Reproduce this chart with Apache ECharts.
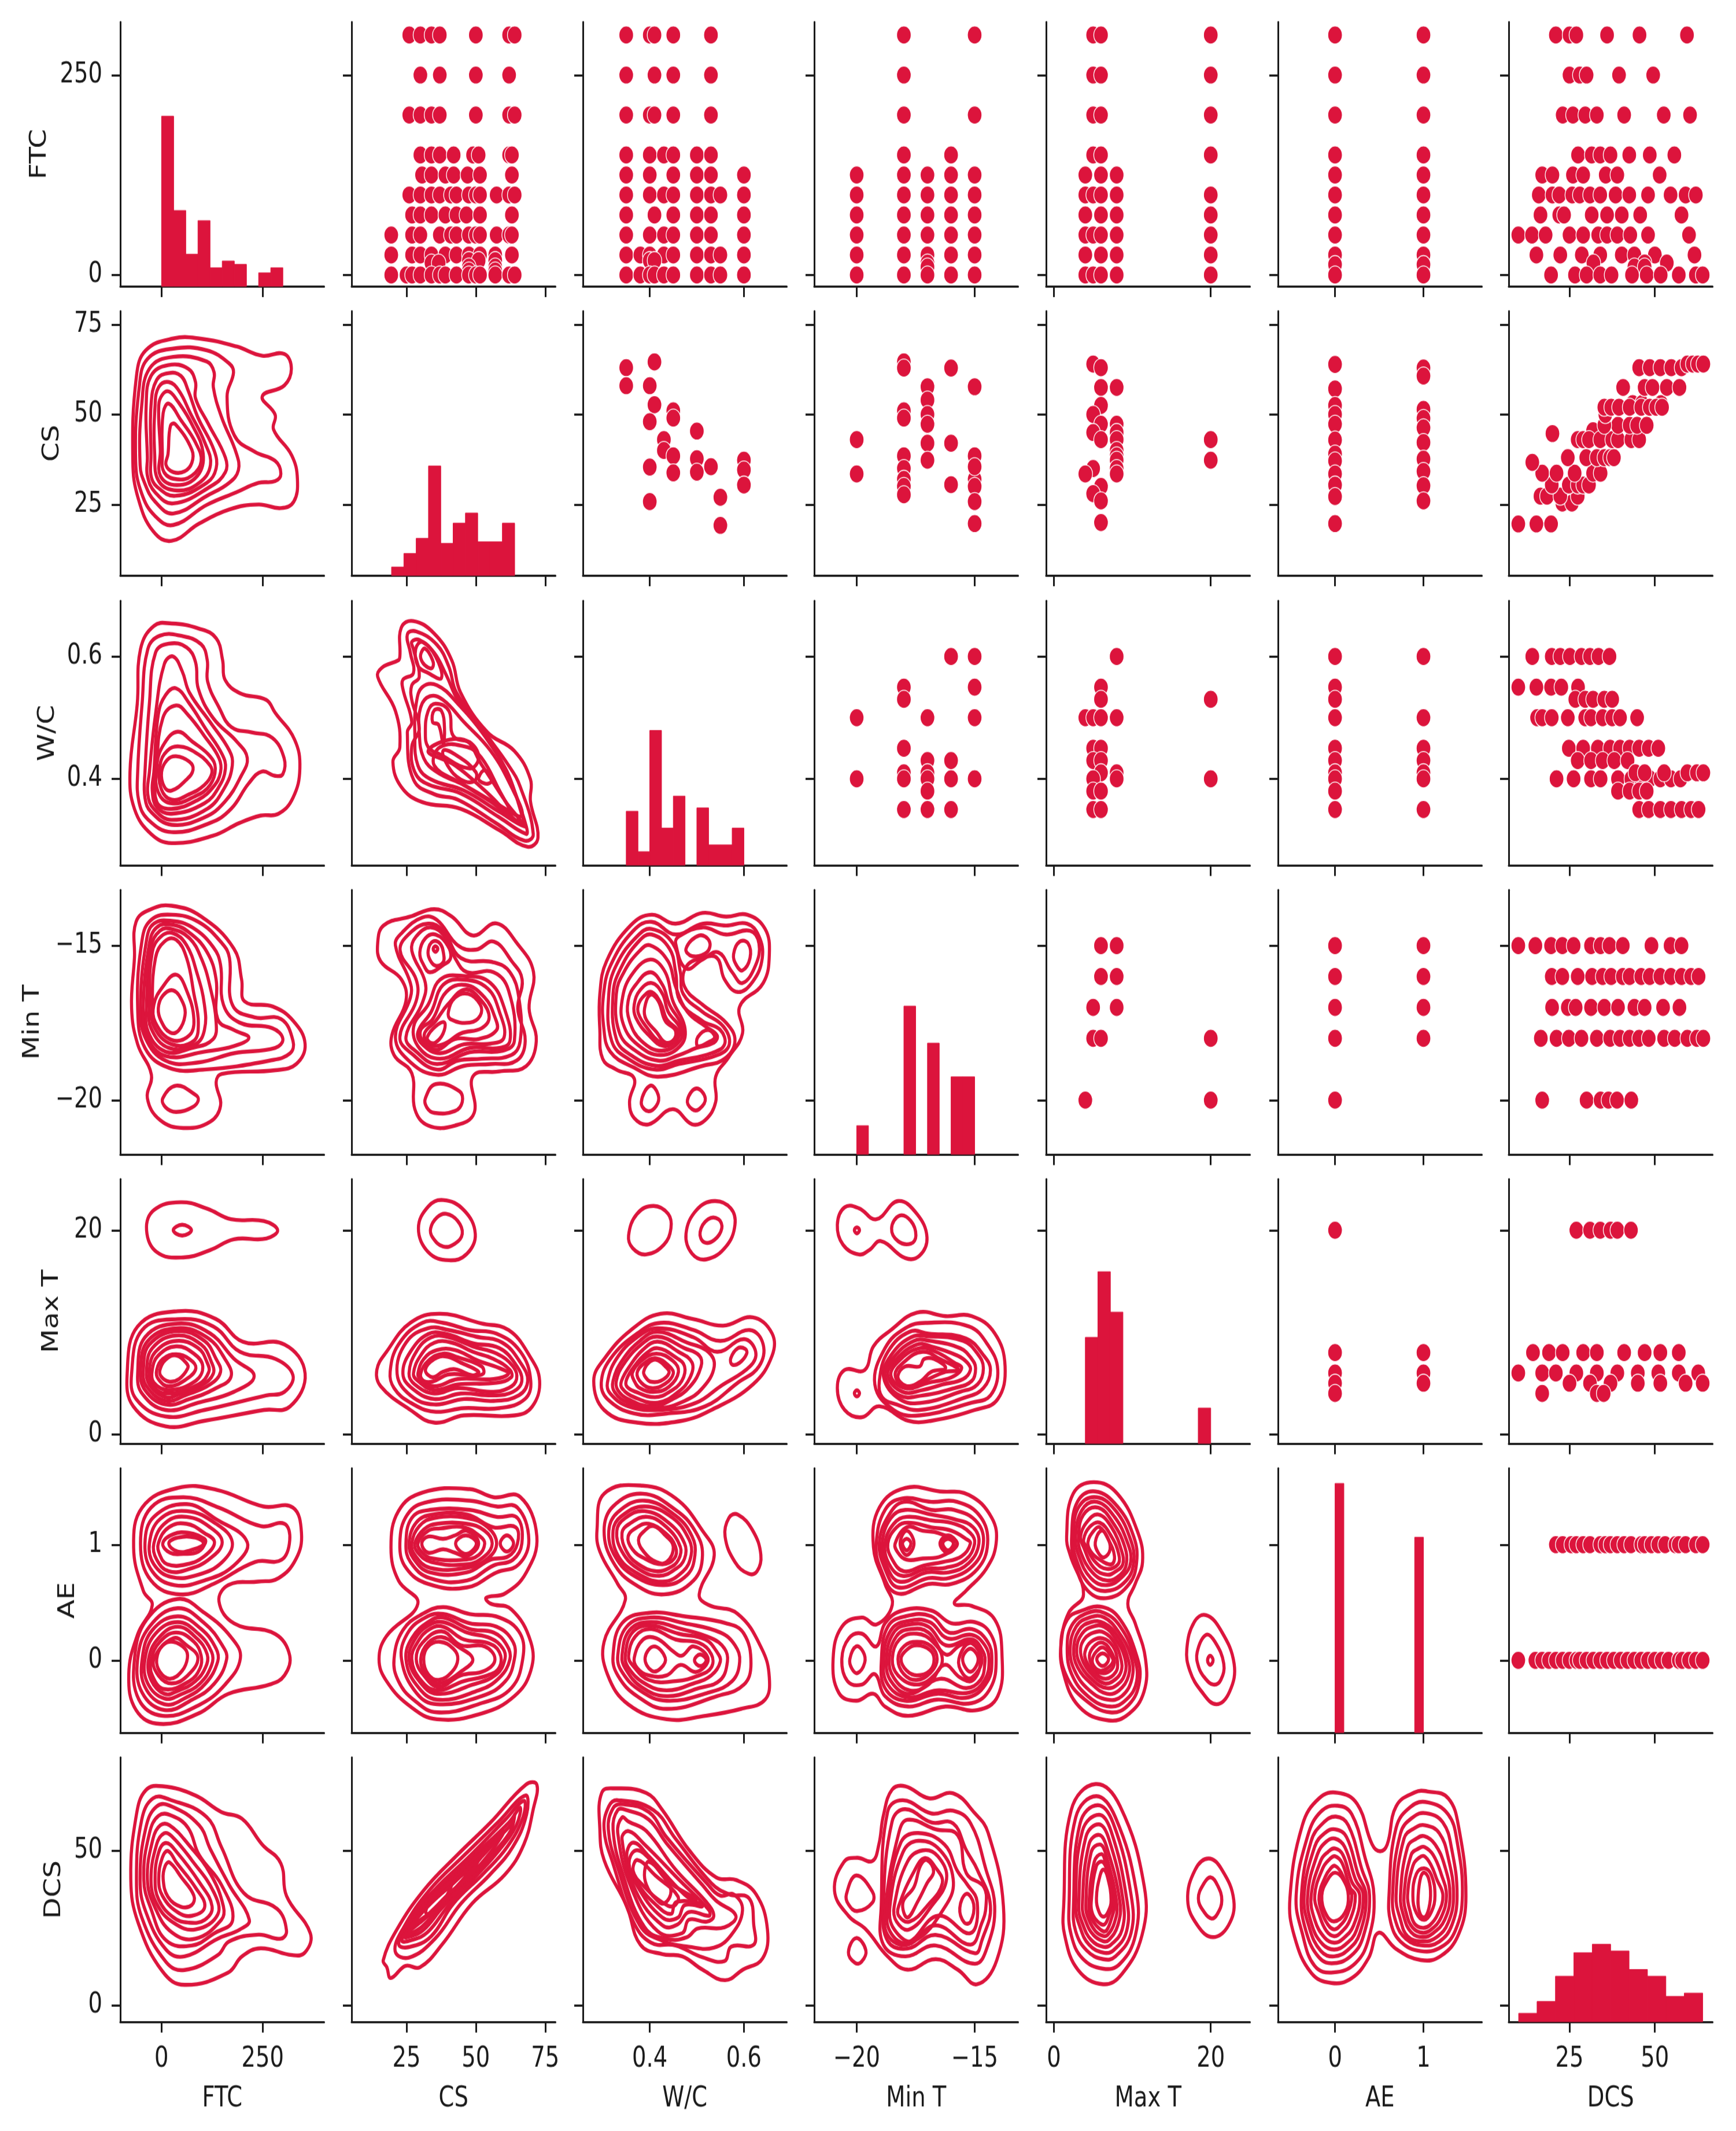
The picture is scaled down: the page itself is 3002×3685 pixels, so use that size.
<!DOCTYPE html>
<html><head><meta charset="utf-8">
<script src="https://cdn.jsdelivr.net/npm/echarts@6/dist/echarts.min.js"></script>
<style>html,body{margin:0;padding:0;background:#fff;height:3685px}
#chart{width:3002px;height:2948px;transform:scaleY(1.25);transform-origin:0 0}</style>
</head><body><div id="chart"></div>
<script>
const variables=['FTC','CS','W/C','Min T','Max T','AE','DCS'];
const xLimits=[[-102,402],[5.2,78.7],[.258,.691],[-21.8,-13.16],[-1,25],[-.645,1.66],[7.2,66.9]];
const yLimits=[[-14.1,316.3],[5.3,78.7],[.259,.691],[-21.75,-13.2],[-.9,25],[-.625,1.66],[-5.3,80]];
const xTicks=[[0,250],[25,50,75],[.4,.6],[-20,-15],[0,20],[0,1],[25,50]];
const yTicks=[[0,250],[25,50,75],[.4,.6],[-20,-15],[0,20],[0,1],[0,50]];

// histograms on the diagonal: [first edge, last edge] and counts of ten bins
const histRange=[[0,300],[19.6,64],[.35,.6],[-20,-15],[4,20],[0,1],[10.1,64]];
const histFTC=[101,45,19,39,11,15,13,0,8,11];
const histCS=[5,13,22,65,19,31,37,20,20,31];
const histWC=[32,8,80,22,41,0,34,12,12,22];
const histMinT=[17,0,0,0,88,0,66,0,46,46];
const histMaxT=[63,102,78,0,0,0,0,0,0,21];
const histAE=[148,0,0,0,0,0,0,0,0,116];
const histDCS=[5,12,27,41,46,42,31,27,15,17];

// scatter panels: [level of y, [x values]]
const ptsCS_FTC=[[300,[26,30,34,37,50,62,64]],[250,[30,37,50,62]],[200,[26,30,34,37,50,62,64]],[150,[30,34,37,42,49,51,62,63]],[125,[30.6,34,39,42,47,51.5,63]],[100,[26,30,34,37,41,43,47.5,50,51.5,57.5,62,64]],[75,[27,30,34,39,43,46.6,51.5,63]],[50,[19.5,27,30,37,41,43,47.5,50,51.5,57.5,62,63]],[25,[19.5,27,30,34,39,43,47.5,51.5,57,63]],[18,[47.5,51,57]],[15,[34,36.6]],[10,[47.5,57]],[5,[47.5,57]],[0,[19.5,25,27,30,34,37,39,43,47.5,50,51.5,57,62,64]]];
const ptsWC_FTC=[[300,[.35,.4,.41,.45,.53]],[250,[.35,.41,.45,.53]],[200,[.35,.4,.41,.45,.53]],[150,[.35,.4,.43,.45,.5,.53]],[125,[.35,.4,.45,.5,.53,.6]],[100,[.35,.4,.43,.45,.5,.53,.55,.6]],[75,[.35,.41,.45,.5,.53,.6]],[50,[.35,.4,.43,.45,.5,.53,.6]],[25,[.35,.38,.4,.43,.45,.5,.53,.55,.6]],[18,[.4,.41]],[0,[.35,.38,.4,.41,.43,.45,.5,.53,.55,.6]]];
const ptsMinT_FTC=[[300,[-18,-15]],[250,[-18]],[200,[-18,-15]],[150,[-18,-16]],[125,[-20,-18,-17,-16,-15]],[100,[-20,-18,-17,-16,-15]],[75,[-20,-18,-17,-16,-15]],[50,[-20,-18,-17,-16,-15]],[25,[-20,-18,-17,-16,-15]],[15,[-17]],[10,[-17]],[0,[-20,-18,-17,-16,-15]]];
const ptsMaxT_FTC=[[300,[5,6,20]],[250,[5,6,20]],[200,[5,6,20]],[150,[5,6,20]],[125,[4,6,8]],[100,[4,5,6,8,20]],[75,[4,6,8,20]],[50,[4,5,6,8,20]],[25,[4,6,8,20]],[0,[4,5,6,8,20]]];
const ptsAE_FTC=[[300,[0,1]],[250,[0,1]],[200,[0,1]],[150,[0,1]],[125,[0,1]],[100,[0,1]],[75,[0,1]],[50,[0,1]],[25,[0,1]],[13,[0,1]],[0,[0,1]]];
const ptsDCS_FTC=[[300,[21,25,27,36,45.5,59.4]],[250,[25,28,30,39.5,49.5]],[200,[23,26,29.6,33,41,52.6,60.3]],[150,[27.5,31.5,34,37,42.5,48.5,55.7]],[125,[17,20,26,29,35.6,39,51.4]],[100,[16,20,22,25.8,28,31,34,38.5,42.5,48,54.6,59,62]],[75,[16.5,22,23.4,31.5,36,40.3,45.7,57.8]],[50,[10,14,18,25,29,33.4,36,39,42.8,48,60]],[25,[15.3,22.3,28.6,34,40.3,44,50,61.6]],[15,[32,47,53.5]],[10,[44,47]],[0,[19.6,26.6,30,34,37.3,43.3,47.6,51.7,57,62,64]]];

const ptsWC_CS=[[63,[.35]],[58,[.35,.4]],[64.6,[.41]],[52.7,[.41]],[51,[.45]],[49,[.45]],[48,[.4]],[43,[.43]],[40,[.43]],[38.5,[.45]],[35.4,[.4]],[33.8,[.45]],[25.8,[.4]],[45.4,[.5]],[37.7,[.5]],[34,[.5]],[35.5,[.53]],[27,[.55]],[19.2,[.55]],[37.3,[.6]],[34.6,[.6]],[30.4,[.6]]];
const ptsMinT_CS=[[43,[-20]],[33.5,[-20]],[64.6,[-18]],[62.9,[-18,-16]],[51,[-18]],[49,[-18]],[38.5,[-18,-15]],[35,[-18]],[32,[-18,-15]],[30,[-18,-15]],[27.7,[-18]],[57.7,[-17,-15]],[54,[-17]],[50,[-17]],[47.3,[-17]],[42,[-17,-16]],[37.3,[-17]],[30.5,[-16]],[35.5,[-15]],[25.8,[-15]],[19.7,[-15]]];
const ptsMaxT_CS=[[64,[5]],[63,[6]],[57.5,[6,8]],[52.5,[6]],[50,[5]],[47.3,[6,8]],[45,[5,8]],[43,[6,8,20]],[40,[8]],[38.5,[8]],[37.3,[8,20]],[35,[5,8]],[33.5,[4,8]],[30,[6]],[28,[5]],[26,[6]],[20,[6]]];
const ptsAE_CS=[[63.9,[0]],[57.1,[0]],[52.5,[0]],[50,[0]],[47.3,[0]],[42.9,[0]],[39,[0]],[37.1,[0]],[33.5,[0]],[30.4,[0]],[27.2,[0]],[19.7,[0]],[62.9,[1]],[60.7,[1]],[51.4,[1]],[48.9,[1]],[46.3,[1]],[42.2,[1]],[37.6,[1]],[34.2,[1]],[30.2,[1]],[26,[1]]];
const ptsDCS_CS=[[19.6,[10,15.3,19.6]],[25.4,[22.9,25.7]],[27.3,[16.5,18.4,22.3,27.4]],[30.4,[19.8,24.8,27.4,29,30.7]],[33.7,[17,21.2,26.5,31.9,34.1]],[36.7,[14.1]],[38,[24.5,29.9,33,35.2,36.9,38]],[44.7,[20]],[45.5,[31.9]],[43,[27.4,29,30.7,34,37.5,39.2,43.1,45.4]],[47,[39.2,42.6,44.8,47.6,35.2]],[50,[35.5]],[53,[43.5,46.2,51.8]],[52,[35.2,37.2,39.5,42.6,46,48.5,50.4,52.1]],[57.5,[40.7,47,49.3,53.5,57.2]],[63,[45.4,48.5,51.6,54.8,57.8]],[64,[59.5,61.1,62.6,64.2]]];

const ptsMinT_WC=[[.6,[-16,-15]],[.55,[-18,-15]],[.53,[-18]],[.5,[-20,-17,-15]],[.45,[-18]],[.43,[-17,-16]],[.41,[-18,-17]],[.4,[-20,-18,-17,-16,-15]],[.38,[-17]],[.35,[-18,-17,-16]]];
const ptsMaxT_WC=[[.6,[8]],[.55,[6]],[.53,[6,20]],[.5,[4,5,6,8]],[.45,[5,6]],[.43,[5,6]],[.41,[6,8]],[.4,[8,20,5]],[.38,[5,6]],[.35,[5,6]]];
const ptsAE_WC=[[.6,[0,1]],[.55,[0]],[.53,[0]],[.5,[0,1]],[.45,[0,1]],[.43,[0,1]],[.41,[0,1]],[.4,[0,1]],[.38,[0]],[.35,[0,1]]];
const ptsDCS_WC=[[.6,[14.1,19.8,22.3,25.1,28.5,31,33.5,36.7]],[.55,[10,15.3,19.6,22.6,27.5]],[.53,[26.7,29.6,31.9,35.2,37.5]],[.5,[15.5,17,19.8,24.5,29.6,31.3,34.7,37.5,39.8,44.8]],[.45,[24.8,29,33.3,36.9,39.8,42.6,45.4,48.2,51]],[.43,[27.4,31.3,34.7,38.1,42]],[.4,[21.2,26.2,31.3,34.1,39.2,43.1,45.9,48.5,51.6,54.7,57.5]],[.41,[44.3,47,52.7,59.5,62.3,64.2]],[.38,[39.2,42.6,45.4,47.6]],[.35,[45.4,48.2,51.6,54.7,57.8,60.6,62.8]]];

const ptsMaxT_MinT=[[-15,[6,8]],[-16,[6,8]],[-17,[5,8]],[-18,[5,6,20]],[-20,[4,20]]];
const ptsAE_MinT=[[-15,[0,1]],[-16,[0,1]],[-17,[0,1]],[-18,[0,1]],[-20,[0]]];
const ptsDCS_MinT=[[-15,[10,15,19.6,22.9,26.2,31.3,34.1,36.7,40.6,49,54.6,57.8]],[-16,[19.8,22.9,27.4,31.6,34.7,37.2,40.6,42.6,46,48.5,51.6,54.7,57.8,60.6,62.8]],[-17,[19.9,24.5,26.8,31.3,35.2,39.2,44,47,52.4,57.2]],[-18,[16.6,21.2,24.8,28.5,33,36.9,39.8,42.6,45.4,48.2,52.7,55.8,59.5,62.3,64.2]],[-20,[17,30,34.1,36.4,38.9,43.1]]];

const ptsAE_MaxT=[[20,[0]],[8,[0,1]],[6,[0,1]],[5,[0,1]],[4,[0]]];
const ptsDCS_MaxT=[[20,[27,31,34,37,39,43]],[8,[14.3,19,23,29,33,41,47,51.6,57]],[6,[10,17,21,27,33,39,45,51,57,62.7]],[5,[25,31,37,45,51.6,59,64]],[4,[17,33,35]]];
const ptsDCS_AE=[[1,[21,23,25.5,27,29,31,34,35.5,37,39,41,43,46,47,49,51,53,56,57,59,62,64]],[0,[10,15,17,19,21,23,25,27,28,30,32,34,36,38,40,42,44,46,48,50,52,54,57,58,60,62,64]]];

// KDE contours: each contour is [x values],[y values]
const kdeFTC_CS=[
[[-71,-62,-39,29,93,185,249,304,321,304,249,281,277,322,336,327,295,240,167,93,25,-21,-58],[37.1,60.7,67.8,71.1,71.1,68.9,66.3,66.8,62.7,58.1,55,49.9,45.8,38.6,32,25.8,24,25,23.6,19.7,14.9,17.6,26.8]],
[[-64,-55,-35,29,112,167,178,162,180,231,281,295,281,240,185,112,29,-16,-49],[37.1,57.7,65.4,68.3,67.8,64.2,61.7,55,44.2,39.6,37.1,33.5,31.5,31,28.4,24.9,19.3,21.8,28]],
[[-53,-49,-30,29,112,130,128,148,185,190,167,112,29,-16,-42],[36,52.5,62.7,66,64.7,61.7,57.6,49.4,39.2,34.5,31,27.4,22.5,25.8,31]],
[[-35,-38,-26,16,66,84,84,116,158,158,121,29,-16,-35],[38,52.5,60.7,63.7,62.7,59,54.5,47.3,38,34,30,25.3,28.4,33]],
[[-26,-26,-12,18,48,66,89,130,135,112,34,-12,-26],[38,52.5,59.6,61.5,60.7,56.6,49.4,40,35,31,27.4,30,33]],
[[-17,-16,-7,18,43,71,107,121,93,38,-7],[39,52.5,57.6,59,56.6,50.4,42.2,36,31,28.9,31.5]],
[[-3,-7,2,18,38,75,103,89,38,-3],[40,52.5,55.5,56.4,54,47.3,39.1,33,30.4,33]],
[[2,4,18,48,84,98,75,38,6],[39,50.4,53,48.4,42.2,37,33,32,34]],
[[16,22,34,75,75,57,29,11],[39,46.8,47.3,40.2,36.6,34.2,34,36]]];
const kdeFTC_WC=[
[[-78,-60,-52,-19,25,91,135,151,157,194,259,281,329,342,325,289,245,193,127,25,-26,-67],[.411,.523,.612,.65,.654,.646,.63,.594,.562,.54,.529,.508,.464,.417,.369,.343,.34,.328,.307,.295,.31,.351]],
[[-59,-48,-34,-4,47,98,113,114,142,172,223,274,303,300,281,248,216,172,120,25,-34,-56],[.411,.523,.612,.634,.634,.62,.594,.559,.517,.485,.476,.467,.434,.408,.405,.412,.393,.351,.328,.313,.334,.363]],
[[-41,-30,-15,18,62,84,91,128,186,212,197,157,106,25,-26,-41],[.411,.523,.606,.621,.615,.591,.547,.499,.461,.434,.405,.363,.337,.325,.346,.369]],
[[-30,-15,7,29,51,69,120,168,175,157,113,25,-19,-34],[.411,.505,.588,.6,.576,.541,.493,.446,.422,.387,.351,.333,.351,.375]],
[[-19,-8,10,36,69,109,150,158,142,106,25,-12,-23],[.411,.505,.537,.548,.523,.482,.44,.417,.387,.36,.343,.354,.381]],
[[-12,3,36,65,106,142,146,128,91,25,-12],[.417,.499,.52,.505,.47,.434,.411,.387,.366,.351,.363]],
[[-12,7,40,76,120,133,120,84,25,-8],[.422,.458,.477,.461,.437,.417,.39,.372,.36,.378]],
[[-4,14,43,84,120,124,106,69,25,-1],[.422,.446,.453,.443,.422,.408,.39,.375,.366,.384]],
[[0,14,36,69,78,62,25,7],[.411,.431,.437,.428,.415,.399,.381,.387]]];
const kdeFTC_MinT=[
[[-74,-67,-63,-26,25,98,179,198,205,275,326,355,333,281,149,135,146,120,54,-4,-35,-25,-59],[-17.03,-15.4,-14.23,-13.82,-13.71,-14.06,-15.1,-16.1,-16.8,-16.97,-17.44,-18.19,-18.83,-19.03,-19.15,-19.42,-20.17,-20.7,-20.9,-20.64,-19.94,-19.18,-18.19]],
[[3,36,84,91,76,36,10],[-19.94,-19.53,-19.83,-20,-20.23,-20.38,-20.23]],
[[-59,-48,-26,25,91,150,168,175,230,296,325,318,267,106,18,-41],[-17.03,-14.81,-14.17,-14,-14.23,-14.93,-15.4,-16.91,-17.32,-17.38,-18.08,-18.48,-18.72,-19.01,-18.95,-18.31]],
[[-52,-37,-19,25,76,128,146,153,193,274,300,281,179,91,10,-41],[-16.91,-14.81,-14.29,-14.2,-14.41,-15.05,-15.63,-16.91,-17.49,-17.67,-18.02,-18.31,-18.48,-18.78,-18.72,-17.96]],
[[-45,-30,-12,25,69,113,135,139,179,216,179,106,10,-37],[-16.91,-14.93,-14.41,-14.32,-14.58,-15.22,-16.1,-17.38,-17.73,-17.98,-18.25,-18.43,-18.57,-17.9]],
[[-37,-26,-4,25,69,98,120,135,128,76,10,-33],[-16.91,-15.05,-14.52,-14.46,-14.76,-15.4,-16.33,-17.49,-18.02,-18.31,-18.43,-17.79]],
[[-30,-23,-1,29,62,87,106,106,84,18,-26],[-16.91,-15.22,-14.7,-14.6,-14.99,-15.86,-16.91,-17.73,-18.19,-18.31,-17.67]],
[[-23,-15,7,36,62,80,91,80,25,-19],[-16.91,-15.4,-14.87,-14.81,-15.4,-16.56,-17.49,-18.08,-18.19,-17.61]],
[[-19,3,36,62,80,69,25,-15],[-16.91,-16.33,-15.94,-16.45,-17.38,-17.9,-18.05,-17.49]],
[[-8,3,29,53,58,43,21,-1],[-17.03,-16.62,-16.45,-16.85,-17.26,-17.73,-17.81,-17.44]]];
const kdeFTC_MaxT=[
[[-37,-19,47,113,172,253,287,259,179,120,54,-12],[20,21.96,22.74,22.1,21.07,20.89,20,19.18,19.11,18.04,17.33,17.86]],
[[29,51,74,51],[20,20.53,20,19.47]],
[[-85,-59,40,135,201,304,355,318,253,106,10,-70],[5.94,10.57,12.06,11.28,9.07,8.79,5.94,2.74,2.38,1.32,.78,2.74]],
[[-74,-48,40,128,194,282,325,304,259,106,10,-63],[5.94,10.21,11.28,10.57,8.08,7.37,5.77,4.16,3.81,2.38,1.74,3.45]],
[[-59,-41,40,120,179,229,179,91,10,-48],[5.94,9.5,10.85,9.89,7.4,5.7,4.16,3.1,2.38,3.99]],
[[-52,-34,40,113,157,172,135,69,10,-41],[6.3,9.15,10.39,9.48,7.37,5.66,4.52,3.45,2.92,4.34]],
[[-45,-30,40,106,135,146,120,62,10,-37],[6.3,8.79,10.11,9.15,7.37,6.12,4.88,3.88,3.27,4.7]],
[[-37,-23,36,98,124,128,102,47,10,-30],[6.3,8.43,9.68,8.79,7.01,5.94,4.88,3.99,3.63,4.88]],
[[-30,-15,36,91,113,117,91,10,-23],[6.3,8.08,9.15,8.43,7.01,6.12,4.88,3.99,4.88]],
[[-23,-8,36,80,102,84,18,-19],[6.3,7.72,8.61,7.9,6.65,5.23,4.34,5.05]],
[[-12,3,36,69,85,62,18,-8],[6.3,7.37,7.83,7.37,6.48,5.41,4.7,5.41]],
[[-4,10,36,62,65,43,18,-1],[6.3,7.3,7.72,6.94,6.48,5.41,5.16,5.66]]];
const kdeFTC_AE=[
[[-69,-48,40,135,252,325,346,333,289,238,165,142,179,282,317,304,267,165,91,-4,-63,-81,-59,-23,-45],[.975,1.32,1.49,1.475,1.33,1.32,1.1,.88,.71,.68,.65,.51,.32,.225,.04,-.13,-.21,-.29,-.46,-.55,-.43,-.12,.225,.475,.6]],
[[-52,-26,54,142,245,304,317,297,231,128,47,-26],[1.01,1.32,1.41,1.32,1.16,1.18,1.04,.87,.85,.66,.57,.69]],
[[-41,-19,62,135,212,179,106,32,-23],[1.01,1.24,1.35,1.22,1.02,.82,.69,.65,.77]],
[[-30,-4,62,135,175,150,91,25,-19],[1.01,1.22,1.29,1.18,1.02,.85,.74,.72,.83]],
[[-19,10,62,120,150,120,69,18,-12],[1.01,1.19,1.24,1.15,1.02,.88,.79,.77,.87]],
[[-8,18,62,106,131,106,62,14,-4],[1.01,1.15,1.18,1.1,1.02,.9,.83,.83,.91]],
[[3,29,69,106,109,91,54,21],[1.01,1.09,1.1,1.05,1.02,.94,.92,.93]],
[[18,40,84,104,80,40],[1.01,1.06,1.06,1.01,.96,.94]],
[[-67,-37,40,106,172,195,157,91,3,-56],[.01,.35,.53,.41,.2,.02,-.21,-.39,-.48,-.34]],
[[-59,-30,40,106,150,161,131,76,7,-48],[.01,.29,.45,.32,.13,.01,-.2,-.34,-.43,-.28]],
[[-48,-23,40,98,135,139,109,62,7,-41],[.01,.26,.38,.27,.1,-.01,-.2,-.32,-.38,-.23]],
[[-41,-15,40,91,124,124,95,51,7,-34],[.01,.23,.33,.23,.07,-.04,-.2,-.29,-.33,-.2]],
[[-32,-8,40,87,113,109,84,43,7,-26],[.01,.19,.29,.19,.05,-.06,-.18,-.26,-.29,-.17]],
[[-25,-4,36,80,98,95,69,7,-23],[.01,.16,.24,.16,.04,-.07,-.18,-.25,-.13]],
[[-19,29,62,90,65,25,-8],[.01,.19,.13,.02,-.13,-.2,-.13]],
[[-12,3,29,58,64,51,21,-4],[.01,.13,.16,.1,.02,-.09,-.16,-.1]]];
const kdeFTC_DCS=[
[[-76,-62,-39,2,84,148,199,249,295,309,368,355,323,245,199,165,57,2,-58],[40.7,61.6,69.4,70.7,67.7,62.4,60.2,51.9,45.8,35.3,23.2,17.1,16.2,18.4,15.8,10.6,6.6,11,26.7]],
[[-62,-49,-21,20,112,148,203,286,309,295,240,167,139,57,11,-49],[40.7,59.9,66.8,66.4,60.7,51.1,36.3,31.1,24.1,21.5,22.8,20.6,16.2,11.4,14,28.4]],
[[-53,-39,-12,25,93,121,167,217,194,139,57,11,-39],[40.7,57.2,64.2,64.2,58.1,50.3,38.9,27.6,24.5,21.5,15.8,18,30.2]],
[[-44,-30,-7,25,66,93,148,176,130,75,11,-26],[40.7,55.5,61.2,61.2,57.2,48.5,38.9,27.6,23.2,19.3,21,31.1]],
[[-35,-21,-3,20,66,121,153,148,84,25,-16],[40.7,53.8,58.1,58.1,52,42.4,31.9,27.6,21.5,23.6,31.5]],
[[-26,-12,6,25,75,130,139,84,29,-12],[40.7,52,55.5,54.6,46.8,36.3,29.3,24.5,26.7,32.8]],
[[-16,-7,11,38,93,125,107,66,29,-7],[40.7,49.4,52.4,49.4,39.8,31.9,27.6,26.7,28.4,34.1]],
[[-7,2,16,38,84,107,75,38,2],[40.7,47.7,49.8,45.9,38,31.9,28.9,30.2,35.4]],
[[4,9,20,48,80,75,48,16],[40.7,45,46.1,41.5,35.4,32.4,31.8,35]]];
const kdeCS_WC=[
[[22.6,23.1,27.4,34.9,41.3,44.5,54.2,63.8,69.7,69.7,72.4,68.6,58.5,44.5,30.7,23.1,20.1,22.6,21,14.6,16.2,22.1],[.6,.647,.658,.638,.594,.541,.476,.446,.399,.363,.304,.289,.316,.351,.362,.387,.428,.452,.511,.567,.582,.594]],
[[26.4,25.3,28.5,36,40.3,43,53.2,61.8,66,70.7,67.5,57.5,43.5,35,27.5,25.3,26.9,23.7,23.7,27.5],[.606,.636,.641,.619,.583,.541,.476,.422,.387,.31,.299,.327,.366,.375,.399,.476,.493,.547,.562,.573]],
[[27.5,26.9,29.6,35,39.3,43.5,53.2,60.7,63.9,68.2,68.2,58.5,44.6,32.8,28,26.9,29.6,26.9,26.9,29.6],[.612,.624,.627,.606,.57,.529,.47,.417,.381,.322,.31,.337,.376,.391,.411,.453,.482,.529,.553,.567]],
[[30.1,31.7,34.4,34.4,32.8,30.7],[.603,.613,.594,.582,.582,.591]],
[[28.3,30.7,35.5,37.6,32.8,29.1],[.612,.624,.6,.565,.573,.585]],
[[28,28.5,30.7,36,43.5,54.3,61.8,67.1,67.7,58.5,45.7,33.9,29.1],[.476,.523,.55,.553,.523,.464,.405,.334,.322,.346,.381,.399,.422]],
[[29.6,30.1,33.4,38.2,45.7,55.3,62.8,66.6,58.5,45.7,36,31.2],[.476,.517,.535,.529,.493,.446,.387,.34,.357,.39,.411,.434]],
[[34.4,35,37.6,38.7,38.2,36.6],[.493,.512,.511,.482,.458,.488]],
[[31.8,32.8,35.5,40.3,41.9,48.4,51,47.8,37,32.8],[.476,.511,.523,.511,.47,.458,.434,.417,.44,.452]],
[[38.2,42.5,50,49.4,44.6,39.8],[.446,.44,.411,.396,.399,.422]],
[[51,53.2,55.9,54.3,51.6],[.402,.414,.399,.392,.396]],
[[32.8,42.5,53.2,63.9,66.6,60.7,52.1,45.7],[.446,.422,.381,.334,.328,.363,.423,.464]],
[[35,44.6,55.3,62.8,58.5,52.1,46.8,37.1],[.422,.393,.363,.34,.381,.434,.452,.452]]];
const kdeCS_MinT=[
[[14.6,16.7,26.4,35,41.3,48.9,57.4,64.9,70.8,69.2,71.8,68.1,58.5,48.9,49.4,42.5,32.8,28,26.9,20.5,19.7,24.8,23.2,15.7],[-14.93,-14.35,-14.06,-13.82,-14.06,-14.67,-14.28,-14.93,-15.86,-17.03,-18.08,-18.9,-19.07,-19.24,-20.41,-20.82,-20.82,-20.29,-19.13,-18.54,-17.9,-16.79,-16.1,-15.51]],
[[31.8,35.5,44.1,45.1,42.5,35,32.3],[-19.94,-19.48,-19.71,-20.06,-20.35,-20.41,-20.23]],
[[21,23.4,30.7,36,43.5,50,56.5,63,66.7,65.1,67.8,64.7,55.3,45.7,36,26.4,21,26.4,26.4],[-14.99,-14.58,-14.09,-14.17,-14.99,-15.13,-14.87,-15.51,-16.1,-17.03,-18.08,-18.72,-18.83,-18.89,-19.18,-18.77,-17.96,-16.68,-16.21]],
[[22.7,26.4,32.8,38.2,44.6,56.4,62.3,65.5,66,62.8,52.1,43.5,36,27.5,22.6,28.5,28.5],[-15.16,-14.58,-14.29,-14.52,-15.4,-15.54,-15.86,-16.68,-18.08,-18.54,-18.66,-18.72,-19.01,-18.54,-17.96,-16.79,-16.1]],
[[26.9,28.5,33.9,39.3,42.5,46.8,56.4,61.8,63.9,59.6,47.8,36,28.5,24.8,30.7,31.8],[-15.16,-14.7,-14.41,-14.76,-15.4,-15.86,-15.86,-16.45,-18.08,-18.4,-18.45,-18.83,-18.43,-17.96,-16.85,-16.21]],
[[29.8,31.8,35.5,39.8,40.9,38.2,33.4,31.2],[-15.22,-14.76,-14.64,-14.99,-15.4,-15.63,-15.86,-15.63]],
[[32.8,34.4,37.1,38.4,38.2,35.5,33.4],[-15.16,-14.87,-14.93,-15.28,-15.54,-15.65,-15.45]],
[[34.6,35.4,36.3,35.4],[-15.1,-15.02,-15.1,-15.2]],
[[27.6,32.8,37.1,45.7,55.3,60.7,62.3,58.5,47.8,37.1,29.6],[-17.61,-16.91,-16.1,-15.98,-16.21,-17.14,-18.08,-18.31,-18.31,-18.66,-18.31]],
[[29.1,33.9,38.2,45.7,54.3,58.5,60.2,55.3,45.7,37.1,30.7],[-17.8,-17.14,-16.27,-16.1,-16.39,-17.14,-17.96,-18.17,-18.19,-18.48,-18.19]],
[[30.1,34.4,39.3,46.2,53.2,56.9,57.5,51,42.5,36,31.2],[-17.73,-17.38,-16.5,-16.27,-16.68,-17.32,-17.73,-18.02,-18.02,-18.37,-18.13]],
[[31.5,35.5,39.8,46.2,52.1,54.8,52.1,44.6,38.2,32.8],[-17.84,-17.44,-16.91,-16.42,-16.79,-17.32,-17.67,-17.84,-18.19,-18.19]],
[[40.1,42.5,47.3,51.6,51.6,47.8,40.9],[-17.14,-16.68,-16.56,-16.91,-17.26,-17.49,-17.38]],
[[32.5,35.5,38.7,38.2,35.5,33.4],[-17.96,-17.61,-17.49,-17.84,-18.13,-18.13]]];
const kdeCS_MaxT=[
[[29.3,32.8,38.2,45.7,49.8,46.8,40.3,32.8],[20.18,22.31,22.95,21.96,19.64,17.69,17.05,17.86]],
[[33.7,36,39.3,43.5,45.1,42.5,38.2,34.4],[20.18,21.25,21.6,20.89,19.64,18.68,18.4,19.29]],
[[14.3,17.8,26.4,37.1,52.1,61.8,69.3,73,70.4,64,45.7,35,26.4,15.7],[6.3,8.08,10.92,11.81,10.85,10.21,7.72,5.23,2.74,1.85,1.85,1.14,2.38,4.7]],
[[19.1,22.1,30.7,38.2,47.8,57.5,66.1,69.8,67.7,58.5,45.7,35,26.4,20.5],[6.12,8.79,10.92,10.92,10.21,9.85,8.08,5.23,3.45,2.56,2.56,2.21,3.1,4.52]],
[[21.6,24.8,32.8,40.3,50,59.6,66.1,68.7,65.5,56.4,45.7,35,26.4],[5.94,8.97,10.39,10.21,9.57,8.97,7.01,5.23,3.81,3.27,3.45,2.92,3.81]],
[[23.7,26.4,32.8,39.3,48.9,58.5,64.4,66.6,63.4,56.4,44.6,35,26.9],[5.94,8.08,9.82,9.82,8.93,8.43,6.83,5.23,4.16,3.81,3.99,3.45,4.52]],
[[25.9,28.5,33.9,40.3,48.9,57.5,63.4,64.7,61.8,55.3,43.5,35,28],[5.94,8.08,9.5,9.5,8.61,7.9,6.65,5.41,4.52,4.16,4.52,3.99,4.88]],
[[27.5,30.1,35,41.4,48.9,56.4,62.3,62.8,57.5,43.5,35,29.1],[5.94,7.72,8.97,8.97,8.08,7.37,6.3,5.59,5.05,4.88,4.34,5.23]],
[[29.1,31.2,36,42.5,51,58.5,61.8,56.4,43.5,35,30.1],[5.94,7.37,8.25,8.25,7.19,6.48,5.94,5.41,5.41,4.7,5.41]],
[[30.1,32.8,38.2,43.5,52.1,52.7,48.9,40.3,34.4,31.2],[5.94,7.19,7.9,7.54,6.65,5.94,5.77,5.87,5.16,5.23]],
[[31.8,35,39.3,44.6,51,48.9,42.5,38.2,34.4],[6.3,7.37,7.62,7.01,6.12,5.77,6.37,6.12,5.59]]];
const kdeCS_AE=[
[[19.4,22.1,30.7,47.8,56.4,66.1,72,68.2,60.7,53.7,55.3,62.8,69.8,69.8,63.9,52.1,36,26.4,17.8,15.1,17.8,29.1,22.1],[.975,1.29,1.45,1.48,1.41,1.41,1.07,.76,.58,.54,.49,.44,.16,-.09,-.31,-.46,-.51,-.4,-.18,.01,.21,.49,.69]],
[[22.6,25.3,32.8,47.8,57.5,65,69.1,65.5,57.5,46.8,32.8,24.8],[1.01,1.26,1.37,1.38,1.33,1.32,1.04,.83,.76,.63,.66,.8]],
[[24.8,26.9,33.4,47.8,57.5,65,66.6,63.4,56.4,46.8,33.4,26.4],[1.01,1.23,1.3,1.3,1.24,1.23,1.01,.87,.82,.69,.71,.85]],
[[25.9,28.5,34.4,46.8,56.4,64.4,65,61.8,55.3,46.8,33.4,27.5],[1.01,1.19,1.26,1.26,1.15,1.15,1.01,.9,.87,.76,.76,.88]],
[[26.9,29.6,35,46.8,54.3,57.5,54.3,46.8,33.4,28],[1.01,1.16,1.23,1.23,1.15,1.01,.88,.8,.8,.91]],
[[28,31.2,36,46.8,53.2,55.9,53.2,46.8,33.9,29.1],[1.01,1.13,1.18,1.18,1.12,1.01,.9,.83,.85,.93]],
[[29.1,32.8,37.1,45.7,51.6,53.2,51,45.7,34.4,30.7],[1.01,1.12,1.14,1.15,1.07,1.01,.91,.87,.88,.93]],
[[30.5,32.8,38.2,42.5,46.8,51,46.8,42.5,38.2,32.8],[1.01,1.07,1.05,1.08,1.12,1.01,.9,.93,.96,.93]],
[[58.8,61.2,63.6,61.2],[1.01,1.08,1.01,.94]],
[[42.7,46.4,50.2,46.4],[1.01,1.08,1.01,.92]],
[[20.5,23.7,30.7,38.2,47.8,58.5,66,66.9,62.8,52.1,36,27.5,22.1],[.01,.26,.4,.46,.4,.37,.23,.01,-.24,-.37,-.45,-.34,-.18]],
[[23.2,25.3,31.8,38.2,47.8,57.5,63.4,63.9,60.7,52.1,36,28.5],[.01,.23,.37,.4,.32,.29,.16,.01,-.18,-.31,-.38,-.28]],
[[24.8,26.9,32.8,38.2,47.8,56.4,61.2,62.3,58.5,51,36,28.5],[.01,.19,.33,.37,.27,.24,.13,.01,-.15,-.26,-.34,-.21]],
[[25.9,28,32.8,38.2,46.8,55.3,59.8,60.5,57.5,48.9,36,29.6],[.01,.18,.3,.33,.24,.19,.1,.01,-.12,-.21,-.29,-.18]],
[[26.9,29.1,33.4,38.2,45.7,54.3,58.5,58.5,54.3,45.7,36,30.1],[.01,.16,.27,.29,.18,.15,.07,-.06,-.13,-.18,-.26,-.17]],
[[28.5,30.7,37.7,44.6,53.2,56.9,53.2,44.6,36.6,31.2],[.01,.15,.25,.13,.12,.01,-.09,-.13,-.23,-.13]],
[[30.1,32.8,37.7,43.5,48.9,45.1,36.6,32.2],[.01,.15,.2,.12,.01,-.09,-.2,-.13]],
[[31.2,32.8,37.1,41.9,43.5,41.4,36.6,32.8],[.01,.12,.16,.1,.01,-.1,-.17,-.12]]];
const kdeCS_DCS=[
[[16.6,21.3,31.3,43.3,55.3,68,72,70.7,67.3,60.6,48.6,37.9,29.9,24.6,19.3,17.9],[14.5,24.1,37.2,48.5,59,71.2,71.2,63.3,51.9,42.3,32.8,19.7,12.3,12.7,8.8,12.3]],
[[20.9,23.9,33.3,45.9,57.9,67.9,68.3,63.3,55.3,44.6,35.3,25.9],[17.5,25,37.2,48.5,59,67.7,61.6,51.1,42.4,32.8,21.5,15.4]],
[[22.2,25.9,35.9,47.3,60.6,67.3,67,61.3,52.6,41.9,33.9,25.9],[19.8,27.6,38,47.7,59.9,66,60.7,51.1,42.4,32.8,22.3,18.8]],
[[23.3,27.3,37.3,48.6,61.9,66,64.6,58.6,49.9,39.9,32.6,26.6],[21,28,38,47.7,59,63.8,58.1,50.3,41.5,31.9,23.6,21]],
[[24,28.6,37.9,49.9,62.6,64,62.6,56.6,47.9,37.9,31.3,26.6],[22.3,29.4,38,47.7,58.1,61.6,56.4,49.4,40.7,31.5,24.5,22.3]],
[[24.6,30,38.6,51.3,60,55.3,45.9,36.6,30.6,26.6],[22.8,29.8,37.6,48.5,56.1,49.4,39.8,31.1,25.4,23.2]],
[[25.7,31.3,39.9,51.3,57.3,52.6,44.6,35.9,29.9],[24.1,30.6,38,47.2,53.3,48.5,39.8,31.5,26.7]],
[[26.6,31.9,41.3,50.6,47.3,40.6,33.3,28.6],[25.4,31.5,38.9,46.8,41.5,36.3,29.8,26.7]],
[[31.9,34.6,41.3,37.9,33.9],[30.2,34.6,39.8,32.8,29.3]]];
const kdeWC_MinT=[
[[.294,.308,.359,.404,.455,.512,.562,.607,.645,.654,.641,.591,.597,.568,.54,.54,.518,.49,.449,.398,.367,.357,.367,.329,.3,.294],[-16.56,-15.51,-14.35,-14,-14.29,-13.94,-14.06,-14,-14.46,-15.28,-16.21,-16.97,-17.84,-18.6,-19.24,-20.06,-20.64,-20.78,-20.29,-20.78,-20.58,-20.06,-19.3,-19.01,-18.66,-17.73]],
[[.382,.401,.418,.414,.395],[-20.06,-19.53,-19.83,-20.18,-20.35]],
[[.48,.499,.518,.505,.49],[-20,-19.62,-19.94,-20.29,-20.29]],
[[.302,.317,.365,.404,.455,.512,.562,.607,.632,.639,.619,.587,.559,.543,.512,.477,.474,.512,.562,.581,.559,.512,.418,.367,.316,.302],[-16.56,-15.63,-14.52,-14.23,-14.64,-14.29,-14.35,-14.29,-14.7,-15.4,-16.16,-16.5,-16.1,-15.4,-15.4,-15.69,-16.33,-16.91,-17.49,-18.08,-18.66,-18.89,-19.24,-18.95,-18.43,-17.61]],
[[.578,.591,.609,.613,.597,.584],[-15.28,-14.87,-14.93,-15.4,-15.8,-15.63]],
[[.477,.505,.527,.521,.49],[-15.1,-14.67,-14.87,-15.22,-15.34]],
[[.477,.512,.546,.575,.597,.625,.632,.613,.562,.512,.462,.455],[-15.74,-15.45,-15.22,-15.86,-16.21,-15.63,-14.93,-14.52,-14.64,-14.41,-14.7,-14.93]],
[[.313,.329,.373,.404,.449,.465,.471,.512,.556,.569,.544,.462,.411,.354,.319],[-16.56,-15.63,-14.7,-14.46,-14.93,-15.86,-16.56,-17.14,-17.61,-18.19,-18.54,-18.83,-19.01,-18.66,-18.08]],
[[.322,.338,.376,.404,.442,.455,.464,.512,.55,.559,.531,.462,.414,.36,.329],[-16.56,-15.74,-14.87,-14.64,-15.1,-15.86,-16.79,-17.44,-17.73,-18.19,-18.48,-18.72,-18.89,-18.54,-18.02]],
[[.329,.345,.379,.401,.439,.455,.48,.518,.543,.537,.499,.462,.418,.367,.335],[-16.56,-15.86,-15.16,-14.99,-15.51,-16.33,-17.14,-17.61,-17.9,-18.13,-18.31,-18.54,-18.72,-18.37,-17.79]],
[[.341,.36,.401,.433,.449,.474,.468,.423,.373,.344],[-16.79,-15.98,-15.45,-15.86,-16.79,-17.61,-18.19,-18.54,-18.19,-17.55]],
[[.354,.37,.401,.427,.442,.468,.464,.426,.382,.357],[-16.79,-16.27,-15.86,-16.27,-16.91,-17.61,-18.08,-18.4,-18.08,-17.44]],
[[.367,.379,.404,.427,.439,.464,.458,.43,.398,.37],[-16.91,-16.45,-16.21,-16.56,-17.14,-17.67,-18.02,-18.25,-17.9,-17.32]],
[[.376,.388,.404,.423,.436,.461,.452,.423,.392,.376],[-16.91,-16.62,-16.5,-16.85,-17.38,-17.79,-18.13,-18.13,-17.61,-17.2]],
[[.389,.401,.418,.433,.454,.452,.433,.414,.392],[-17.03,-16.59,-16.79,-17.44,-17.73,-18.02,-18.13,-17.79,-17.38]],
[[.502,.524,.538,.524,.502],[-17.96,-17.73,-17.96,-18.13,-18.25]]];
const kdeWC_MaxT=[
[[.355,.373,.408,.439,.445,.43,.392,.364],[19.47,21.6,22.38,21.6,20.18,18.58,17.62,18.22]],
[[.477,.499,.537,.572,.581,.562,.521,.49],[19.64,21.96,22.85,22.14,20.53,18.4,17.15,17.69]],
[[.507,.524,.546,.553,.537,.515],[19.82,21.07,21.07,20.18,19.04,18.83]],
[[.281,.303,.36,.423,.493,.556,.619,.66,.66,.619,.531,.468,.373,.303],[5.23,7.37,10.21,11.81,11.28,10.64,11.46,9.86,7.72,4.88,2.38,1.32,1.14,2.38]],
[[.297,.316,.373,.423,.493,.55,.613,.641,.632,.587,.518,.436,.367,.31],[5.05,7.37,9.86,10.92,10.21,9.15,10.21,8.79,6.65,5.05,2.74,2.03,2.03,3.45]],
[[.31,.329,.373,.417,.493,.543,.6,.625,.613,.55,.499,.423,.354,.316],[5.05,7.37,9.5,10.39,9.5,8.08,9.32,8.08,6.65,4.7,3.1,2.38,2.74,3.99]],
[[.322,.341,.379,.417,.48,.524,.537,.512,.474,.417,.354,.325],[5.23,7.19,9.15,10.04,8.97,8.08,6.65,4.52,3.27,2.56,3.1,4.16]],
[[.329,.344,.382,.417,.474,.505,.509,.486,.449,.404,.354,.332],[5.23,6.83,8.79,9.57,8.43,7.72,6.65,4.7,3.45,2.74,3.45,4.34]],
[[.34,.357,.385,.417,.461,.49,.486,.461,.417,.367,.341],[5.23,6.65,8.26,9.07,8.08,7.01,5.59,4.16,3.1,3.63,4.52]],
[[.351,.367,.392,.417,.455,.474,.468,.442,.411,.37,.351],[5.41,6.65,7.9,8.43,7.54,6.65,5.23,4.16,3.63,4.16,4.7]],
[[.363,.382,.414,.449,.461,.442,.411,.379,.367],[6.01,7.19,7.9,7.19,6.12,4.7,4.16,4.52,5.23]],
[[.373,.388,.414,.442,.45,.433,.404,.382],[6.01,6.94,7.44,6.65,5.94,4.95,4.52,5.05]],
[[.387,.398,.414,.433,.441,.423,.401,.391],[6.12,7.01,7.3,6.65,6.01,5.23,5.16,5.59]],
[[.572,.587,.603,.606,.591,.575],[7.44,8.43,8.36,7.9,7.01,6.83]]];
const kdeWC_AE=[
[[.288,.303,.385,.455,.512,.537,.505,.524,.587,.638,.654,.645,.594,.518,.436,.354,.31,.303,.348,.332,.294],[1.13,1.44,1.51,1.4,1.12,.91,.57,.48,.4,.1,-.15,-.34,-.42,-.48,-.51,-.38,-.12,.16,.52,.66,.94]],
[[.56,.568,.587,.619,.636,.628,.609,.581],[1.07,1.23,1.26,1.12,.91,.77,.75,.85]],
[[.303,.322,.385,.455,.496,.512,.493,.43,.367,.322],[1.12,1.33,1.44,1.3,1.12,.91,.69,.57,.66,.85]],
[[.313,.332,.389,.455,.49,.496,.48,.43,.367,.326],[1.12,1.28,1.38,1.25,1.07,.91,.74,.65,.73,.9]],
[[.322,.338,.389,.449,.484,.488,.471,.427,.37,.332],[1.12,1.24,1.33,1.23,1.04,.91,.77,.68,.76,.91]],
[[.33,.348,.389,.44,.474,.474,.455,.42,.376,.341],[1.12,1.23,1.29,1.19,1.01,.88,.79,.73,.79,.94]],
[[.341,.357,.395,.436,.465,.461,.442,.414,.376,.351],[1.1,1.18,1.24,1.15,.98,.87,.8,.77,.83,.94]],
[[.354,.373,.398,.433,.455,.452,.427,.389,.363],[1.07,1.15,1.18,1.1,.98,.88,.83,.88,.96]],
[[.376,.389,.408,.433,.45,.436,.414,.389],[1.04,1.12,1.16,1.08,.98,.85,.85,.93]],
[[.322,.341,.398,.474,.562,.6,.615,.6,.543,.436,.373,.332],[.04,.32,.41,.38,.32,.23,-.03,-.21,-.31,-.42,-.31,-.13]],
[[.332,.351,.401,.474,.55,.581,.591,.575,.524,.436,.379,.341],[.04,.29,.37,.32,.24,.13,-.01,-.18,-.28,-.35,-.26,-.1]],
[[.341,.357,.401,.468,.531,.559,.565,.55,.505,.436,.382,.348],[.04,.26,.33,.27,.19,.1,-.01,-.17,-.24,-.31,-.23,-.07]],
[[.348,.363,.401,.461,.518,.543,.55,.531,.493,.436,.389,.354],[.04,.24,.3,.23,.18,.07,-.01,-.13,-.2,-.26,-.2,-.06]],
[[.355,.37,.404,.455,.505,.531,.531,.505,.455,.398,.363],[.04,.21,.27,.18,.15,.05,-.06,-.13,-.18,-.17,-.04]],
[[.367,.386,.414,.452,.468,.493,.524,.499,.465,.436,.398,.374],[.02,.18,.19,.07,.04,.12,.01,-.1,-.04,-.13,-.13,-.07]],
[[.495,.507,.52,.507],[0,.05,0,-.05]],
[[.39,.409,.433,.423,.404],[.02,.12,.02,-.07,-.09]]];
const kdeMinT_MaxT=[
[[-20.82,-20.51,-19.9,-19.17,-18.25,-17.45,-17.02,-17.33,-17.94,-18.98,-19.47,-19.9,-20.58],[20.53,22.24,22.14,21.07,22.85,21.6,19.29,17.51,17.26,18.93,18.04,17.62,18.58]],
[[-20.1,-19.99,-19.88,-19.99],[20,20.28,20,19.68]],
[[-18.52,-18.19,-17.7,-17.49,-17.7,-18.25],[20.18,21.42,20.89,19.47,18.68,18.93]],
[[-20.82,-20.51,-19.66,-19.29,-18.55,-17.45,-16.23,-15.12,-14.14,-13.71,-14.02,-15,-16.84,-17.82,-19.04,-19.78,-20.51],[4.52,6.3,6.3,8.61,10.21,11.92,11.57,11.57,9.86,6.65,3.45,2.38,1.32,1.32,2.74,1.67,2.38]],
[[-20.1,-19.99,-19.88,-19.99],[4.02,4.31,4.02,3.7]],
[[-19.23,-18.8,-17.94,-17.08,-15.25,-14.45,-14.02,-14.33,-15.12,-17.33,-18.43],[4.88,8.43,10.39,10.92,10.57,8.79,6.3,3.81,3.1,1.85,2.38]],
[[-19.04,-18.68,-17.76,-16.96,-15.37,-14.63,-14.33,-14.63,-15.37,-17.33,-18.31,-18.92],[5.23,8.08,10.04,9.86,9.39,7.76,6.3,4.52,3.63,2.38,2.92,3.63]],
[[-18.86,-18.55,-17.7,-16.96,-15.49,-14.88,-14.63,-14.88,-15.61,-17.2,-18.19],[5.59,7.72,9.5,9.61,9.15,7.9,6.48,4.88,4.16,3.1,3.45]],
[[-18.8,-18.43,-17.57,-16.9,-15.61,-15.12,-14.96,-15.12,-15.86,-17.2,-18.19],[5.77,7.54,9.15,9.15,8.43,7.37,6.48,5.23,4.52,3.81,3.81]],
[[-18.68,-18.31,-17.45,-16.84,-15.74,-15.31,-15.18,-15.49,-16.35,-17.2,-18.06],[5.77,7.37,8.79,8.61,7.72,7.01,6.3,5.41,4.88,4.34,4.16]],
[[-18.55,-18.13,-17.33,-16.65,-15.86,-15.55,-15.98,-16.96,-17.94],[5.77,7.37,8.43,8.08,7.01,6.48,5.59,5.05,4.52]],
[[-18.37,-17.94,-17.2,-16.47,-15.67,-16.23,-16.96,-17.82],[5.77,7.19,8.08,7.37,6.3,6.12,5.41,4.59]],
[[-18.25,-17.94,-17.33,-17.14,-16.72,-16.23,-16.84,-17.27,-17.76,-18.12],[5.77,6.65,6.65,7.37,7.37,6.48,6.12,5.23,4.7,5.05]]];
const kdeMinT_AE=[
[[-19.29,-19.04,-17.94,-16.47,-15.25,-14.27,-14.09,-14.51,-15.37,-15.86,-15.12,-14.14,-13.84,-14.02,-14.88,-16.23,-17.82,-18.8,-19.29,-20.02,-20.76,-21,-20.63,-19.78,-19.16,-18.49,-18.8],[.98,1.32,1.49,1.46,1.43,1.23,1.01,.79,.6,.49,.47,.35,.04,-.31,-.43,-.4,-.48,-.4,-.29,-.35,-.28,.01,.29,.37,.31,.48,.66]],
[[-20.63,-20.33,-19.78,-19.17,-18.8,-18.06,-16.84,-15.98,-15,-14.33,-14.09,-14.33,-15.12,-16.6,-17.82,-18.8,-19.23,-19.78,-20.39],[.01,.19,.23,.12,.32,.43,.43,.32,.33,.23,.01,-.24,-.37,-.34,-.4,-.31,-.12,-.21,-.18]],
[[-20.29,-20.02,-19.72,-19.66,-19.96,-20.21],[.01,.12,.07,-.02,-.11,-.07]],
[[-18.95,-18.68,-17.94,-16.84,-16.1,-15.12,-14.45,-14.27,-14.45,-15.25,-16.6,-17.94,-18.8],[.01,.29,.38,.38,.24,.27,.16,.01,-.18,-.32,-.29,-.35,-.24]],
[[-18.86,-18.55,-17.82,-16.9,-16.16,-15.12,-14.57,-14.39,-14.57,-15.25,-16.6,-17.82,-18.68],[.01,.26,.34,.33,.19,.22,.13,.01,-.17,-.28,-.26,-.32,-.21]],
[[-18.74,-18.43,-17.76,-16.96,-16.23,-15.12,-14.63,-14.57,-14.75,-15.37,-16.47,-17.76,-18.55],[.01,.24,.31,.29,.13,.18,.07,-.03,-.17,-.24,-.16,-.29,-.18]],
[[-18.62,-18.31,-17.7,-16.96,-16.23,-15.61,-15.12,-14.75,-15.06,-15.61,-16.28,-16.96,-17.76,-18.43],[.01,.21,.27,.24,.05,.13,.15,.01,-.17,-.15,-.04,-.21,-.26,-.15]],
[[-18.49,-18.19,-17.45,-16.78,-16.37,-16.72,-17.45,-18.25],[.01,.18,.23,.16,.01,-.13,-.21,-.13]],
[[-18.25,-18,-17.45,-16.84,-16.59,-16.84,-17.45,-18],[.01,.12,.16,.12,.01,-.1,-.17,-.12]],
[[-18.12,-17.88,-17.45,-16.9,-16.72,-16.9,-17.45,-17.88],[.01,.09,.13,.09,.01,-.09,-.13,-.09]],
[[-15.51,-15.18,-14.85,-15.18],[.01,.1,.01,-.1]],
[[-15.67,-15.18,-14.69,-15.12,-15.49],[.01,.15,.01,-.15,-.12]],
[[-19.17,-18.8,-18.06,-16.84,-15.74,-14.75,-14.45,-14.88,-15.98,-16.96,-18.31,-18.98],[1.01,1.3,1.4,1.37,1.37,1.24,1.01,.79,.66,.66,.58,.79]],
[[-19.04,-18.68,-18,-16.84,-15.86,-14.88,-14.63,-15.06,-16.1,-16.96,-18.25,-18.8],[1.01,1.24,1.37,1.3,1.3,1.19,1.01,.82,.71,.71,.63,.79]],
[[-18.92,-18.55,-17.94,-16.84,-15.86,-15.06,-14.82,-15.25,-16.1,-17.02,-18.19,-18.74],[1.01,1.23,1.3,1.26,1.22,1.15,1.01,.84,.76,.76,.68,.82]],
[[-18.8,-18.43,-17.88,-16.84,-15.86,-15.18,-15,-15.37,-16.23,-17.08,-18.06,-18.62],[1.01,1.18,1.24,1.21,1.18,1.1,1.01,.87,.8,.79,.73,.83]],
[[-18.68,-18.31,-17.82,-16.84,-15.98,-15.37,-15.18,-15.55,-16.35,-17.14,-18,-18.49],[1.01,1.15,1.19,1.15,1.12,1.05,1.01,.9,.85,.82,.77,.87]],
[[-18.37,-17.88,-17.2,-16.53,-15.73,-16.41,-17.2,-17.88,-18.25],[1.01,1.15,1.12,1.1,1.01,.9,.88,.87,.93]],
[[-18.16,-17.88,-17.57,-17.88],[1.01,1.12,1.01,.91]],
[[-18.06,-17.88,-17.7,-17.88],[1.01,1.05,1.01,.95]],
[[-16.47,-16.13,-15.77,-16.13],[1.01,1.08,1.01,.93]],
[[-16.35,-16.13,-15.9,-16.13],[1.01,1.05,1.01,.95]]];
const kdeMaxT_AE=[
[[1.62,2.45,5.08,8.1,10.73,11.3,10.36,9.42,10.36,11.68,11.49,9.6,6.97,3.2,1.13,.94,1.88,3.77,2.07],[1.07,1.44,1.54,1.44,1.1,.85,.66,.49,.32,.01,-.27,-.46,-.52,-.4,-.09,.16,.41,.57,.91]],
[[2.26,3,5.27,8.1,10.17,10.55,9.6,6.97,4.33,2.64],[1.07,1.37,1.46,1.33,1.07,.85,.66,.54,.6,.85]],
[[2.45,3.2,5.46,7.91,9.79,10.17,9.23,6.78,4.52,2.82],[1.07,1.33,1.41,1.29,1.04,.85,.69,.6,.66,.88]],
[[2.75,3.58,5.46,7.72,9.42,9.79,8.85,6.78,4.71,3.13],[1.07,1.3,1.37,1.24,1.01,.85,.73,.65,.71,.91]],
[[3.13,3.77,5.65,7.53,9.04,9.23,8.47,6.78,4.9,3.39],[1.07,1.26,1.32,1.19,.98,.83,.74,.69,.76,.94]],
[[3.39,4.14,5.65,7.34,8.66,8.78,7.91,6.78,5.08,3.77],[1.07,1.19,1.26,1.15,.94,.83,.77,.74,.8,.98]],
[[3.77,4.52,5.84,7.34,8.29,8.17,6.78,5.27,4.14],[1.04,1.15,1.19,1.07,.91,.83,.79,.85,.98]],
[[4.33,5.08,5.84,6.97,7.72,7.34,5.84,4.71],[1.02,1.12,1.15,1.04,.9,.83,.87,.94]],
[[5.27,6.03,6.78,7.16,6.4,5.65],[1.02,1.12,1.07,.96,.89,.93]],
[[.87,1.69,3.58,6.21,8.47,10.55,10.92,9.6,7.16,3.95,1.69],[.1,.35,.43,.46,.35,.04,-.18,-.38,-.45,-.34,-.15]],
[[1.69,2.26,4.33,6.4,8.47,10.17,10.55,9.23,7.16,4.33,2.26],[.1,.3,.41,.41,.29,.04,-.18,-.34,-.4,-.31,-.12]],
[[2.07,2.82,4.52,6.4,8.29,9.79,9.98,8.66,6.78,4.52,2.64],[.1,.29,.37,.37,.24,.04,-.15,-.31,-.34,-.26,-.09]],
[[2.52,3.2,4.71,6.4,8.1,9.42,9.53,8.29,6.78,4.9,3.01],[.1,.26,.33,.32,.21,.02,-.13,-.26,-.29,-.21,-.06]],
[[2.9,3.58,4.9,6.4,7.91,9.04,9.04,7.91,6.67,5.08,3.39],[.1,.23,.29,.29,.18,.02,-.12,-.22,-.24,-.18,-.04]],
[[3.39,3.95,5.08,6.4,7.72,8.55,8.55,7.53,6.52,5.27,3.77],[.1,.19,.24,.24,.15,.01,-.1,-.18,-.2,-.15,-.02]],
[[3.95,4.71,6.21,7.53,8.1,7.91,6.59,5.08,4.14],[.07,.16,.19,.12,-.01,-.1,-.16,-.1,-.01]],
[[4.52,5.27,6.29,7.34,7.72,7.16,6.03,5.01],[.04,.13,.15,.07,-.02,-.09,-.11,-.06]],
[[4.9,5.46,6.29,7.27,7.53,6.78,5.84,5.08],[.01,.08,.11,.04,-.01,-.07,-.09,-.05]],
[[5.46,6.21,6.97,6.21],[.01,.06,.01,-.05]],
[[16.95,17.89,19.4,21.28,22.98,22.41,20.72,18.83,17.33],[.1,.33,.39,.26,-.03,-.27,-.38,-.27,-.09]],
[[18.27,19.4,20.53,21.66,21.28,20.34,19.21,18.46],[.07,.22,.16,-.03,-.17,-.21,-.15,-.06]],
[[19.59,19.92,20.3,19.92],[0,.04,0,-.04]]];
const kdeWC_DCS=[
[[.294,.298,.327,.393,.427,.484,.541,.584,.626,.65,.64,.598,.56,.512,.469,.427,.38,.351,.303],[56.8,68.6,70,68.5,63,50,41.3,40.4,35.8,24.5,15.2,11.5,8.1,11.5,15.8,16.5,19.6,32,46.9]],
[[.303,.313,.332,.408,.455,.531,.569,.611,.621,.621,.573,.559,.512,.455,.403,.365,.322],[56.8,64.2,66.2,63,53.7,39.4,35.8,34.5,25.8,19.6,18.9,14.3,15.5,19.3,20.2,27,45.7]],
[[.312,.322,.341,.398,.436,.521,.55,.578,.597,.573,.536,.483,.427,.379,.332],[56.8,63.6,64.9,62.4,54.2,39.4,35.4,35.8,30.7,22.7,18.6,18.9,20.8,25.8,44.4]],
[[.322,.332,.351,.398,.436,.512,.54,.583,.559,.502,.479,.436,.389,.341],[56.8,63,63,59.9,52.2,38.8,33.9,28.9,25.2,24.8,22,21.4,25.2,43.2]],
[[.332,.341,.355,.393,.455,.521,.536,.521,.483,.469,.417,.36],[55.6,60.6,59.3,56.2,43.8,33.2,28.9,27,27.6,23.3,23.9,38.2]],
[[.341,.355,.389,.465,.526,.526,.483,.459,.427,.37],[53.7,56.2,51.9,40.1,30.7,28.9,30.1,26.1,25.8,37]],
[[.351,.365,.398,.474,.512,.474,.46,.427,.37],[48.1,52.5,48.1,35.7,32,32.3,28.3,28.3,39.4]],
[[.356,.37,.398,.445,.498,.455,.445,.412,.374],[45.7,50,47.5,39.4,33.9,33.2,29.5,32.6,39.4]],
[[.365,.374,.412,.46,.45,.427,.389],[43.2,46.9,41.9,35.1,32,33.2,38.2]],
[[.389,.398,.427,.445,.431,.412,.393],[43.2,46.3,41.9,37,32.9,34.5,38.8]]];
const kdeMinT_DCS=[
[[-18.87,-18.5,-17.94,-16.93,-15.91,-14.98,-14.43,-13.78,-14.06,-14.89,-15.72,-16.65,-17.85,-18.69,-19.61,-20.35,-20.94,-20.54,-19.98,-19.33,-19.06],[61.2,69.6,70.7,66.8,68.4,61.9,55.7,32,14.6,6.8,11.5,14.9,11.5,15.8,24.5,28.9,37,46.3,47.6,46.6,51.9]],
[[-20.35,-20.02,-19.61,-19.8,-20.07],[17.1,21.7,17.7,14,13.7]],
[[-20.44,-20.02,-19.33,-19.33,-19.98,-20.35],[35.7,41.9,36.6,33.2,30.4,32.6]],
[[-18.96,-18.69,-18.04,-16.83,-15.91,-15.17,-14.52,-14.15,-14.43,-14.98,-16.65,-17.94,-18.87],[32,62.4,66.2,61.9,62.8,58.7,43.8,32,19.6,13.4,19.3,15.8,19.6]],
[[-18.87,-18.5,-17.94,-16.83,-15.91,-15.35,-14.89,-14.33,-14.7,-14.98,-16.65,-17.85,-18.69],[32,59.3,63.3,59,58.7,50,43.8,32,20.8,16.8,22.7,18.3,20.8]],
[[-18.78,-18.22,-17.85,-16.65,-15.72,-15.35,-14.61,-14.52,-14.7,-15.17,-16.65,-17.85,-18.69],[32,55.5,59.9,56.8,54.9,42.6,38.2,32,26.5,19.6,25.8,19.6,22.7]],
[[-18.69,-18.13,-17.39,-16.28,-15.72,-15.35,-14.89,-15.17,-16.56,-17.85,-18.59],[32,52.5,55.6,51.9,43.2,39.4,33.2,23.3,28.9,20.2,23.9]],
[[-18.59,-18.04,-17.39,-16.46,-15.91,-16.19,-17.57,-18.41],[32,49.4,53.1,50,40.7,32.6,20.8,24.5]],
[[-18.41,-17.85,-17.2,-16.56,-16.19,-16.83,-17.76,-18.31],[32,46.3,50,48.1,40.7,32,24.5,27]],
[[-18.22,-17.57,-17.11,-16.65,-16.37,-17.02,-17.76,-18.22],[32,43.2,47.5,44.4,39.4,32,27,28.9]],
[[-18.04,-17.57,-17.3,-17.02,-16.74,-17.02,-17.39,-17.85],[33.2,38.2,45,46.9,43.2,39.4,33.8,28.3]],
[[-15.63,-15.35,-15.04,-15.17,-15.44],[31.4,36,32.6,27,26.7]]];
const kdeMaxT_DCS=[
[[1.24,2.2,5.31,8.42,11.53,11.24,8.7,6.27,3.05,1.36],[32,63,71.4,64.3,38.2,22.7,10.2,6.8,11.5,22.7]],
[[1.92,2.77,5.42,7.85,10.5,10.4,8.42,6.27,3.62,2.2],[32,60.6,67.5,60.6,37,22.7,13.4,11.8,15.2,22.7]],
[[2.49,3.33,5.59,7.57,9.83,9.83,7.85,6.27,4.18,2.77],[32,58.7,64.6,58.7,35.7,23.3,15.8,14.9,17.7,23.9]],
[[2.77,3.62,5.76,7.29,9.27,9.27,7.57,6.27,4.46,3.33],[32,56.2,61.5,56.2,34.5,24,17.7,17,19.6,25.2]],
[[3.16,4.07,5.76,7.01,8.81,8.7,7.29,6.27,4.75,3.73],[32,54.3,58.4,53.7,33.9,24.5,19.6,18.9,21.1,25.8]],
[[3.62,4.46,5.76,6.72,8.42,8.14,7.01,6.27,5.03,4.07],[32,51.9,55,51.2,33.2,25.8,21.1,20.7,22.7,27]],
[[4.07,4.75,5.88,6.61,8.02,7.68,6.84,6.27,5.31,4.46],[32,49.4,51.9,48.8,32.6,26.4,22.7,22.4,23.9,27.6]],
[[4.46,5.14,6.05,6.55,7.68,7.29,6.72,6.27,5.48,4.75],[32,46.3,48.8,46.3,32.6,27.6,24.2,23.9,25.5,28.3]],
[[4.75,5.42,6.21,6.78,7.46,7,6.44,5.59,4.92],[33.2,45,46.3,43.2,33.2,28.9,26.1,27,29.5]],
[[5.42,5.88,6.33,6.84,7.29,6.89,6.33,5.76],[34.5,41.9,43.8,41.3,33.9,30.1,28.6,30.1]],
[[17.06,18.02,19.72,21.41,22.94,22.26,20.28,18.31],[33.9,43.8,47.4,43.8,33.9,25.8,22,25.8]],
[[18.42,19.15,20,20.85,21.41,20.85,20.11,19.15],[34.5,39.4,41.3,38.8,33.9,29.5,28,30.1]]];
const kdeAE_DCS=[
[[-.51,-.37,-.18,.03,.25,.42,.51,.59,.69,.9,1.05,1.28,1.4,1.48,1.4,1.2,.97,.69,.49,.38,.19,-.04,-.27,-.46],[34.6,58.1,66.8,68.6,65,51.9,49.7,51.9,64.2,68.7,69,66.8,57.2,35.3,23.1,16,14.6,18.2,23.4,15.3,8.8,7.2,10.5,22.3]],
[[-.44,-.31,-.16,.03,.19,.34,.44,.38,.23,-.02,-.23,-.37],[35.4,54.6,62.5,64.4,61.6,47.6,35.4,21.5,13.6,10.6,12.7,23.2]],
[[-.38,-.27,-.14,.01,.15,.3,.39,.32,.19,-.01,-.18,-.33],[35.4,53,58.7,60.9,58.1,44.2,35.4,22.3,16.2,13.6,15.4,24.1]],
[[-.35,-.23,-.12,0,.13,.26,.35,.28,.15,-.01,-.16,-.29],[35.4,51.2,55.5,56.8,54.3,42.4,35.4,23.2,18,15.8,17.5,25]],
[[-.31,-.2,-.1,0,.11,.23,.32,.24,.12,-.01,-.14,-.26],[35.4,48.7,52.8,53.8,51.1,40.7,35.4,24.1,19.7,18,19.7,25.8]],
[[-.27,-.16,-.08,0,.09,.19,.28,.21,.09,-.01,-.12,-.23],[35.4,46.8,49.5,50.6,48.5,39.8,35.4,25.8,21.5,20.2,21.9,27.6]],
[[-.23,-.14,-.06,0,.08,.17,.23,.17,.07,-.01,-.1,-.18],[35.4,44.2,47.2,48.1,45.9,38,35.4,27.6,23.6,22.3,24.1,29.3]],
[[-.18,-.11,-.05,0,.07,.15,.19,.14,.06,-.01,-.08,-.15],[35.4,41.5,44.2,45,42.8,37.2,35.4,29.3,25.8,24.5,26,30.2]],
[[-.15,-.08,0,.09,.15,.11,-.01,-.1],[35.4,40.7,42.8,40.7,35.4,29.8,27.1,29.3]],
[[.61,.69,.86,1.05,1.28,1.38,1.44,1.36,1.2,.97,.74,.63],[35.4,57.2,64.2,65.5,61.6,52.9,35.4,24.1,18.8,17.5,20.6,26.7]],
[[.65,.74,.88,1.03,1.22,1.32,1.38,1.32,1.18,.99,.8,.69],[35.4,55.5,60.7,62,59,50.3,35.4,25.8,20.6,19.3,21.5,26.7]],
[[.69,.78,.9,1.02,1.18,1.28,1.34,1.28,1.15,.99,.82,.74],[35.4,53.8,57.2,58.1,55.5,47.6,35.4,26.7,22,20.6,22.3,27.6]],
[[.74,.82,.92,1.01,1.13,1.24,1.3,1.24,1.11,.99,.86,.78],[35.4,51.1,53.8,54.6,52,45,35.4,27.6,23.3,22,23.6,28.4]],
[[.78,.86,.95,1.01,1.11,1.2,1.26,1.2,1.09,.99,.88,.81],[35.4,48.5,50.7,51.1,48.5,42.4,35.4,28.4,24.5,23.4,25,29.3]],
[[.82,.88,.95,1.01,1.09,1.15,1.22,1.16,1.07,.99,.9,.85],[35.4,45,47.6,48.1,45,40.7,35.4,29.3,25.8,25,26.3,30.2]],
[[.88,.92,1.01,1.09,1.13,1.09,1.01,.92],[35.4,42.4,44.2,42,35.4,30.2,27.6,29.8]],
[[.94,.97,1.01,1.06,1.08,1.05,1,.95],[35.4,41.5,42.8,40.7,35.4,30.2,28.4,30.6]]];

// panel contents by [row, column]
const histograms=[histFTC,histCS,histWC,histMinT,histMaxT,histAE,histDCS];
const upperPanels={'0,1':ptsCS_FTC,'0,2':ptsWC_FTC,'0,3':ptsMinT_FTC,'0,4':ptsMaxT_FTC,'0,5':ptsAE_FTC,'0,6':ptsDCS_FTC,
 '1,2':ptsWC_CS,'1,3':ptsMinT_CS,'1,4':ptsMaxT_CS,'1,5':ptsAE_CS,'1,6':ptsDCS_CS,
 '2,3':ptsMinT_WC,'2,4':ptsMaxT_WC,'2,5':ptsAE_WC,'2,6':ptsDCS_WC,
 '3,4':ptsMaxT_MinT,'3,5':ptsAE_MinT,'3,6':ptsDCS_MinT,'4,5':ptsAE_MaxT,'4,6':ptsDCS_MaxT,'5,6':ptsDCS_AE};
const lowerPanels={'1,0':kdeFTC_CS,'2,0':kdeFTC_WC,'2,1':kdeCS_WC,'3,0':kdeFTC_MinT,'3,1':kdeCS_MinT,'3,2':kdeWC_MinT,
 '4,0':kdeFTC_MaxT,'4,1':kdeCS_MaxT,'4,2':kdeWC_MaxT,'4,3':kdeMinT_MaxT,
 '5,0':kdeFTC_AE,'5,1':kdeCS_AE,'5,2':kdeWC_AE,'5,3':kdeMinT_AE,'5,4':kdeMaxT_AE,
 '6,0':kdeFTC_DCS,'6,1':kdeCS_DCS,'6,2':kdeWC_DCS,'6,3':kdeMinT_DCS,'6,4':kdeMaxT_DCS,'6,5':kdeAE_DCS};

// layout (the page stretches the drawing by 1.25 vertically, as the reference is stretched)
const colLeft=[208,608,1008,1408,1809,2210,2609], panelW=352.5;
const rowTop=[30.4,430.4,831.2,1231.2,1631.2,2031.2,2431.2], panelH=365.6;
const rowNameGap=[120,98,106,132,99,71,95];
const COLOR='#DC143C', INK='#1a1a1a', FONT=38.5;
const fmt=v=>{const s=Math.abs(v)<1&&v!==0?v.toFixed(1):String(Math.abs(v));return (v<0?'\u2212':'')+s;};

const grid=[],xAxis=[],yAxis=[],series=[];
for(let r=0;r<7;r++)for(let c=0;c<7;c++){
  const i=grid.length;
  grid.push({left:colLeft[c],top:rowTop[r],width:panelW,height:panelH,containLabel:false});
  const line={show:true,onZero:false,lineStyle:{color:INK,width:3}};
  xAxis.push({gridIndex:i,type:'value',min:xLimits[c][0],max:xLimits[c][1],splitLine:{show:false},axisLine:line,
    axisTick:{show:true,length:15,lineStyle:{color:INK,width:3},customValues:xTicks[c]},
    axisLabel:{show:r===6,margin:33,fontSize:FONT,fontFamily:'DejaVu Sans',color:INK,customValues:xTicks[c],formatter:fmt},
    name:r===6?variables[c]:'',nameLocation:'middle',nameGap:88,nameTextStyle:{fontSize:FONT,fontFamily:'DejaVu Sans',color:INK}});
  yAxis.push({gridIndex:i,type:'value',min:yLimits[r][0],max:yLimits[r][1],splitLine:{show:false},axisLine:line,
    axisTick:{show:true,length:15,lineStyle:{color:INK,width:3},customValues:yTicks[r]},
    axisLabel:{show:c===0,margin:31,fontSize:FONT,fontFamily:'DejaVu Sans',color:INK,customValues:yTicks[r],formatter:fmt},
    name:c===0?variables[r]:'',nameLocation:'middle',nameRotate:90,nameGap:rowNameGap[r],nameMoveOverlap:false,nameTextStyle:{fontSize:FONT,fontFamily:'DejaVu Sans',color:INK}});
}
const histTop=157;
for(let d=0;d<7;d++){
  const i=d*7+d, axisIndex=yAxis.length;
  yAxis.push({gridIndex:i,type:'value',min:0,max:histTop,show:false,splitLine:{show:false}});
  const [a,b]=histRange[d], w=(b-a)/10;
  series.push({type:'custom',coordinateSystem:'cartesian2d',xAxisIndex:i,yAxisIndex:axisIndex,silent:true,clip:false,
    data:histograms[d].map((n,k)=>[a+k*w,a+(k+1)*w,n]),encode:{x:[0,1],y:2},
    renderItem:(p,api)=>{const p0=api.coord([api.value(0),api.value(2)]),p1=api.coord([api.value(1),0]);
      return {type:'rect',shape:{x:p0[0],y:p0[1],width:p1[0]-p0[0],height:p1[1]-p0[1]},style:{fill:COLOR,stroke:api.value(2)>0?COLOR:null,lineWidth:1}};}});
}
for(const key in upperPanels){
  const [r,c]=key.split(',').map(Number), i=r*7+c, pts=[];
  upperPanels[key].forEach(([y,xs])=>xs.forEach(x=>pts.push([x,y])));
  series.push({type:'scatter',xAxisIndex:i,yAxisIndex:i,silent:true,symbol:'circle',symbolSize:25,data:pts,
    itemStyle:{color:COLOR,opacity:1,borderColor:'#fff',borderWidth:1.3},clip:false});
}
for(const key in lowerPanels){
  const [r,c]=key.split(',').map(Number), i=r*7+c, contours=lowerPanels[key];
  series.push({type:'custom',coordinateSystem:'cartesian2d',xAxisIndex:i,yAxisIndex:i,silent:true,clip:false,
    data:contours.map((ct,k)=>[ct[0][0],ct[1][0],k]),encode:{x:0,y:1},
    renderItem:(p,api)=>{const ct=contours[api.value(2)];
      return {type:'polygon',shape:{points:ct[0].map((x,k)=>api.coord([x,ct[1][k]])),smooth:0.42,smoothConstraint:false},
        style:{fill:'none',stroke:COLOR,lineWidth:5.4}};}});
}
const chart=echarts.init(document.getElementById('chart'));
chart.setOption({animation:false,backgroundColor:'#fff',grid,xAxis,yAxis,series});
</script></body></html>
